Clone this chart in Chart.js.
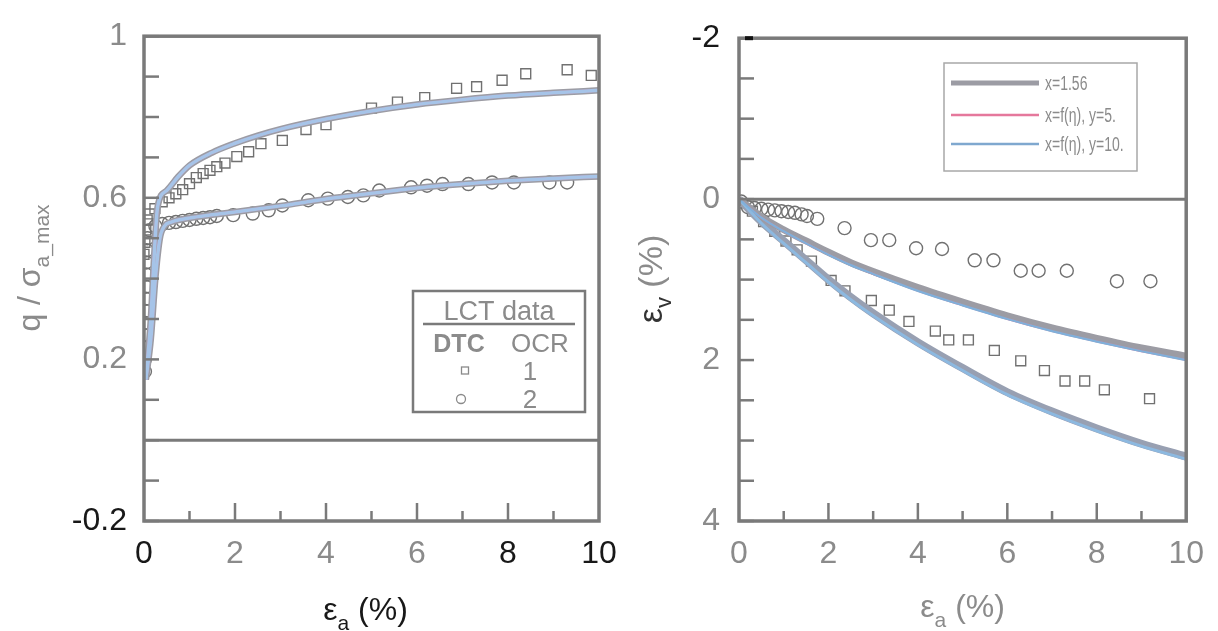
<!DOCTYPE html>
<html>
<head>
<meta charset="utf-8">
<script src="https://cdn.jsdelivr.net/npm/chart.js@4.4.0/dist/chart.umd.min.js"></script>
<style>
  body { margin: 0; background: #fff; width: 1218px; height: 631px; overflow: hidden; }
  #qChart { position: absolute; left: 0; top: 0; }
  #evChart { position: absolute; left: 600px; top: 0; }
</style>
</head>
<body>
<canvas id="qChart" width="640" height="631"></canvas>
<canvas id="evChart" width="618" height="631"></canvas>
<script>
// ---------- left panel: q / sigma_a_max vs axial strain ----------
var qFitX1 = [0.04, 0.15, 0.22, 0.3, 0.5, 0.75, 1, 1.5, 2, 2.5, 3, 4, 5, 6, 7, 8, 9, 10];
var qFitY1 = [0.15, 0.3, 0.45, 0.578, 0.618, 0.652, 0.68, 0.712, 0.735, 0.754, 0.77, 0.795, 0.815, 0.831, 0.843, 0.853, 0.86, 0.866];
var qFitX2 = [0.04, 0.15, 0.25, 0.35, 0.45, 0.6, 1, 1.5, 2, 3, 4, 5, 6, 7, 8, 9, 10];
var qFitY2 = [0.15, 0.25, 0.4, 0.5, 0.53, 0.54, 0.55, 0.558, 0.565, 0.58, 0.597, 0.611, 0.624, 0.634, 0.642, 0.648, 0.653];

var ocr1StrainX = [0.0, 0.02, 0.04, 0.07, 0.12, 0.24, 0.4, 0.55, 0.7, 0.85, 1.0, 1.15, 1.3, 1.45, 1.6, 1.78, 2.04, 2.3, 2.57, 3.04, 3.56, 4.0, 5.0, 5.57, 6.17, 6.87, 7.31, 7.87, 8.39, 9.3, 9.83];
var ocr1Q = [0.46, 0.49, 0.52, 0.545, 0.56, 0.573, 0.59, 0.6, 0.61, 0.62, 0.635, 0.65, 0.66, 0.668, 0.677, 0.686, 0.702, 0.714, 0.734, 0.742, 0.769, 0.781, 0.822, 0.837, 0.848, 0.871, 0.875, 0.891, 0.907, 0.917, 0.903];
var ocr2StrainX = [0.02, 0.02, 0.02, 0.03, 0.03, 0.03, 0.04, 0.04, 0.05, 0.05, 0.06, 0.08, 0.12, 0.25, 0.4, 0.55, 0.7, 0.85, 1.0, 1.15, 1.3, 1.45, 1.6, 1.96, 2.39, 2.74, 3.04, 3.61, 4.04, 4.48, 4.82, 5.17, 5.87, 6.22, 6.56, 7.13, 7.65, 8.13, 8.91, 9.3];
var ocr2Q = [0.17, 0.2, 0.23, 0.26, 0.29, 0.32, 0.35, 0.38, 0.41, 0.44, 0.47, 0.5, 0.52, 0.53, 0.535, 0.538, 0.54, 0.543, 0.545, 0.548, 0.55, 0.552, 0.555, 0.557, 0.561, 0.569, 0.581, 0.594, 0.598, 0.602, 0.606, 0.618, 0.626, 0.63, 0.634, 0.634, 0.638, 0.638, 0.638, 0.638];

var qTicksBlack = [-0.2];
var strainTicksBlackLeft = [0, 8, 10];

// ---------- right panel: volumetric strain vs axial strain ----------
var evFitX = [0, 0.5, 1, 1.5, 2, 2.5, 3, 4, 5, 6, 7, 8, 9, 10];
var evUpperGray = [0, 0.22, 0.38, 0.52, 0.66, 0.79, 0.9, 1.1, 1.28, 1.45, 1.6, 1.73, 1.85, 1.95];
var evUpperBlue = [0, 0.23, 0.4, 0.55, 0.69, 0.82, 0.93, 1.14, 1.32, 1.49, 1.64, 1.77, 1.89, 2.0];
var evLowerGray = [0, 0.28, 0.52, 0.76, 1.0, 1.22, 1.42, 1.78, 2.1, 2.4, 2.64, 2.85, 3.04, 3.2];
var evLowerBlue = [0, 0.3, 0.55, 0.79, 1.03, 1.25, 1.45, 1.81, 2.13, 2.43, 2.67, 2.88, 3.07, 3.23];

var ev1StrainX = [0.3, 0.55, 0.8, 1.05, 1.3, 1.62, 2.06, 2.37, 2.96, 3.36, 3.8, 4.39, 4.69, 5.13, 5.71, 6.3, 6.83, 7.29, 7.73, 8.17, 9.18];
var ev1 = [0.15, 0.28, 0.4, 0.52, 0.63, 0.77, 1.01, 1.14, 1.26, 1.38, 1.52, 1.64, 1.75, 1.75, 1.88, 2.01, 2.13, 2.26, 2.26, 2.37, 2.48];
var ev2StrainX = [0.05, 0.2, 0.35, 0.5, 0.65, 0.8, 0.95, 1.1, 1.25, 1.4, 1.52, 1.75, 2.36, 2.95, 3.36, 3.96, 4.54, 5.27, 5.69, 6.3, 6.7, 7.33, 8.45, 9.2];
var ev2 = [0.03, 0.1, 0.11, 0.12, 0.13, 0.14, 0.15, 0.16, 0.17, 0.19, 0.21, 0.245, 0.36, 0.51, 0.51, 0.61, 0.62, 0.76, 0.76, 0.89, 0.89, 0.89, 1.02, 1.02];

var evTicksBlack = [-2];

var legendLabels = ['x=1.56', 'x=f(\u03B7), y=5.', 'x=f(\u03B7), y=10.'];

var FONT = "'Liberation Sans', Arial, sans-serif";
var gray = '#8b8b8b', black = '#181818', frameCol = '#7a7a7a';
var modelGray = '#9c9ca4', modelPink = '#e5789c', modelBlue = '#a6c4e8';

function pts(xs, ys) {
  return xs.map(function (x, i) { return { x: x, y: ys[i] }; });
}

function fitLine(xs, ys, color, width) {
  return { data: pts(xs, ys), showLine: true, borderColor: color, borderWidth: width,
    pointRadius: 0, cubicInterpolationMode: 'monotone', fill: false };
}

function markers(xs, ys, style, r) {
  return { data: pts(xs, ys), showLine: false, pointStyle: style, pointRadius: r,
    pointBorderColor: '#717171', pointBackgroundColor: 'rgba(0,0,0,0)', pointBorderWidth: 1.4 };
}

// writes a run of text pieces (with optional subscripts) starting from x, or centred on x
function richText(ctx, parts, x, y, align) {
  var total = 0;
  parts.forEach(function (p) {
    ctx.font = (p.bold ? 'bold ' : '') + p.size + 'px ' + FONT;
    p.w = ctx.measureText(p.t).width;
    total += p.w;
  });
  var cx = align === 'center' ? x - total / 2 : x;
  ctx.textBaseline = 'alphabetic';
  ctx.textAlign = 'left';
  parts.forEach(function (p) {
    ctx.font = (p.bold ? 'bold ' : '') + p.size + 'px ' + FONT;
    ctx.fillStyle = p.color;
    ctx.fillText(p.t, cx, y + (p.dy || 0));
    cx += p.w;
  });
}

// frame, zero line, inward tick marks, axis titles and the boxed key
function makeDecor(spec) {
  return {
    id: 'decor',
    beforeDatasetsDraw: function (chart) {
      var ctx = chart.ctx, a = chart.chartArea;
      var y0 = chart.scales.y.getPixelForValue(0);
      ctx.save();
      ctx.strokeStyle = frameCol;
      ctx.lineWidth = 3;
      ctx.beginPath();
      ctx.moveTo(a.left, y0);
      ctx.lineTo(a.right, y0);
      ctx.stroke();
      ctx.restore();
    },
    afterDraw: function (chart) {
      var ctx = chart.ctx, a = chart.chartArea;
      var sx = chart.scales.x, sy = chart.scales.y;
      ctx.save();
      ctx.strokeStyle = frameCol;
      ctx.lineWidth = 2.5;
      var v, p;
      for (v = sy.min; v <= sy.max + 1e-9; v += spec.yMinor) {
        p = sy.getPixelForValue(v);
        ctx.beginPath();
        ctx.moveTo(a.left, p);
        ctx.lineTo(a.left + 15, p);
        ctx.stroke();
      }
      for (v = 1; v < 10; v += 1) {
        p = sx.getPixelForValue(v);
        ctx.beginPath();
        ctx.moveTo(p, a.bottom);
        ctx.lineTo(p, a.bottom - (v % 2 === 0 ? 18 : 10));
        ctx.stroke();
      }
      ctx.lineWidth = 3.5;
      ctx.strokeRect(a.left, a.top, a.right - a.left, a.bottom - a.top);
      if (spec.topTickBlack) {
        ctx.fillStyle = '#111';
        ctx.fillRect(a.left + 6, a.top - 2, 8, 4);
      }
      ctx.restore();

      ctx.save();
      spec.titles(ctx, a);
      ctx.restore();
      ctx.save();
      spec.key(ctx);
      ctx.restore();
    }
  };
}

function axisScales(yMin, yMax, yStep, reverse, yWidth, yPad, xBlack, yBlack) {
  return {
    x: {
      type: 'linear', min: 0, max: 10,
      ticks: { stepSize: 2, padding: 14, maxRotation: 0, font: { family: FONT, size: 32 },
        color: function (c) { return xBlack.indexOf(c.tick.value) >= 0 ? black : gray; } },
      grid: { display: false, drawTicks: false }, border: { display: false },
      afterFit: function (s) { s.height = 110; }
    },
    y: {
      type: 'linear', min: yMin, max: yMax, reverse: reverse,
      ticks: { stepSize: yStep, padding: yPad, font: { family: FONT, size: 32 },
        callback: function (v) { return String(+v.toFixed(1)); },
        color: function (c) { return yBlack.indexOf(+c.tick.value.toFixed(1)) >= 0 ? black : gray; } },
      grid: { display: false, drawTicks: false }, border: { display: false },
      afterFit: function (s) { s.width = yWidth; }
    }
  };
}

var quiet = { legend: { display: false }, tooltip: { enabled: false } };

new Chart(document.getElementById('qChart'), {
  type: 'scatter',
  data: {
    datasets: [
      fitLine(qFitX1, qFitY1, modelBlue, 3.5),
      fitLine(qFitX2, qFitY2, modelBlue, 3.5),
      fitLine(qFitX1, qFitY1, modelPink, 3),
      fitLine(qFitX2, qFitY2, modelPink, 3),
      fitLine(qFitX1, qFitY1, modelGray, 6.5),
      fitLine(qFitX2, qFitY2, modelGray, 6.5),
      markers(ocr1StrainX, ocr1Q, 'rect', 7),
      markers(ocr2StrainX, ocr2Q, 'circle', 6.5)
    ]
  },
  options: {
    responsive: false, animation: false,
    layout: { padding: { top: 23, right: 41, left: 0, bottom: 0 } },
    plugins: quiet,
    scales: axisScales(-0.2, 1, 0.4, false, 144, 17, strainTicksBlackLeft, qTicksBlack)
  },
  plugins: [makeDecor({
    yMinor: 0.1,
    titles: function (ctx, a) {
      richText(ctx, [
        { t: '\u03B5', size: 32, color: black },
        { t: 'a', size: 21, dy: 10, color: black },
        { t: ' (%)', size: 32, color: black }
      ], (a.left + a.right) / 2 - 6, 620, 'center');
      ctx.translate(40, 268);
      ctx.rotate(-Math.PI / 2);
      richText(ctx, [
        { t: 'q / \u03C3', size: 32, color: gray },
        { t: 'a_max', size: 21, dy: 9, color: gray }
      ], 0, 0, 'center');
    },
    key: function (ctx) {
      ctx.fillStyle = '#fff';
      ctx.fillRect(413, 291, 172, 121);
      ctx.strokeStyle = frameCol;
      ctx.lineWidth = 2.5;
      ctx.strokeRect(413, 291, 172, 121);
      ctx.beginPath();
      ctx.moveTo(423, 324);
      ctx.lineTo(575, 324);
      ctx.stroke();
      richText(ctx, [{ t: 'LCT data', size: 27, color: gray }], 499, 320, 'center');
      richText(ctx, [{ t: 'DTC', size: 25, bold: true, color: gray }], 459, 352, 'center');
      richText(ctx, [{ t: 'OCR', size: 26, color: gray }], 540, 352, 'center');
      richText(ctx, [{ t: '1', size: 26, color: gray }], 530, 380, 'center');
      richText(ctx, [{ t: '2', size: 26, color: gray }], 530, 408, 'center');
      ctx.strokeStyle = '#8a8a8a';
      ctx.lineWidth = 1.3;
      ctx.strokeRect(461.5, 367, 7, 7);
      ctx.beginPath();
      ctx.arc(461, 399, 4.5, 0, Math.PI * 2);
      ctx.stroke();
    }
  })]
});

new Chart(document.getElementById('evChart'), {
  type: 'scatter',
  data: {
    datasets: [
      fitLine(evFitX, evUpperBlue, '#7fb0da', 2.2),
      fitLine(evFitX, evLowerBlue, '#8cb9e0', 3),
      fitLine(evFitX, evUpperBlue, modelPink, 2),
      fitLine(evFitX, evLowerBlue, modelPink, 2),
      fitLine(evFitX, evUpperGray, modelGray, 7),
      fitLine(evFitX, evLowerGray, '#98a0b2', 8),
      markers(ev1StrainX, ev1, 'rect', 7),
      markers(ev2StrainX, ev2, 'circle', 6.5)
    ]
  },
  options: {
    responsive: false, animation: false,
    layout: { padding: { top: 23, right: 25, left: 0, bottom: 0 } },
    plugins: quiet,
    scales: axisScales(-2, 4, 2, true, 139, 19, [], evTicksBlack)
  },
  plugins: [makeDecor({
    yMinor: 0.5,
    topTickBlack: true,
    titles: function (ctx, a) {
      richText(ctx, [
        { t: '\u03B5', size: 32, color: gray },
        { t: 'a', size: 21, dy: 10, color: gray },
        { t: ' (%)', size: 32, color: gray }
      ], (a.left + a.right) / 2, 617, 'center');
      ctx.translate(62, 279);
      ctx.rotate(-Math.PI / 2);
      richText(ctx, [
        { t: '\u03B5', size: 34, color: '#333' },
        { t: 'v', size: 22, dy: 9, color: '#333' },
        { t: ' (%)', size: 34, color: gray }
      ], 0, 0, 'center');
    },
    key: function (ctx) {
      ctx.fillStyle = '#fff';
      ctx.fillRect(344, 63, 193, 108);
      ctx.strokeStyle = '#a8a8a8';
      ctx.lineWidth = 1.5;
      ctx.strokeRect(344, 63, 193, 108);
      var rows = [83, 115, 144];
      var cols = [modelGray, modelPink, '#7fa8cf'];
      var widths = [5, 2.5, 2.5];
      rows.forEach(function (ry, i) {
        ctx.strokeStyle = cols[i];
        ctx.lineWidth = widths[i];
        ctx.beginPath();
        ctx.moveTo(351, ry);
        ctx.lineTo(439, ry);
        ctx.stroke();
        ctx.save();
        ctx.translate(445, ry + 7);
        ctx.scale(0.7, 1);
        richText(ctx, [{ t: legendLabels[i], size: 20, color: gray }], 0, 0, 'left');
        ctx.restore();
      });
    }
  })]
});
</script>
</body>
</html>
